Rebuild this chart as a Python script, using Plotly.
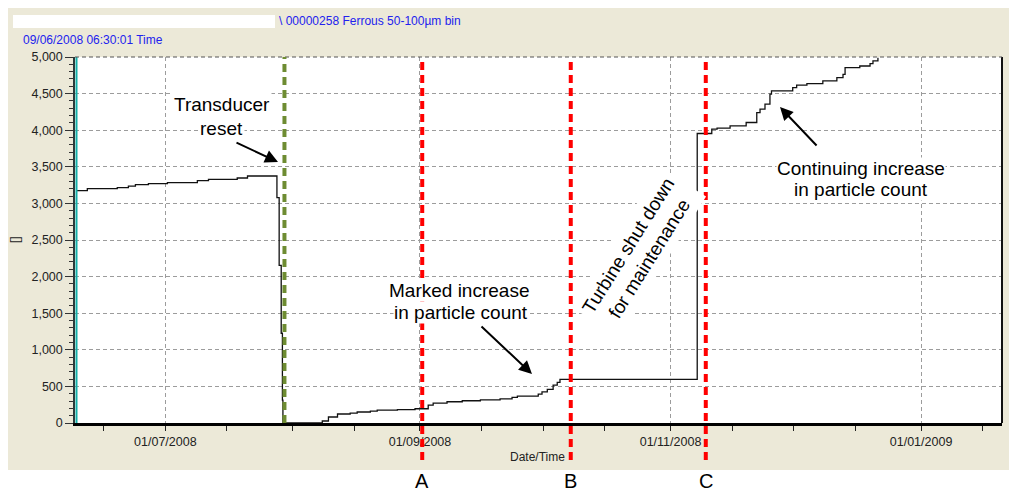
import plotly.graph_objects as go

# ---------------- data ----------------
TIMES = [
    "2008-06-09 06:30", "2008-06-12 00:00", "2008-06-19 07:00", "2008-06-22 00:00",
    "2008-06-23 17:00", "2008-06-26 21:00", "2008-07-01 12:00", "2008-07-08 19:00",
    "2008-07-11 12:00", "2008-07-18 12:00", "2008-07-21 00:00", "2008-07-28 04:00",
    "2008-07-28 17:00", "2008-07-29 05:00", "2008-07-29 12:00", "2008-07-29 15:00",
    "2008-08-08 05:00", "2008-08-09 17:00", "2008-08-11 22:00", "2008-08-15 00:00",
    "2008-08-16 17:00", "2008-08-19 22:00", "2008-08-21 14:00", "2008-08-26 12:00",
    "2008-08-30 19:00", "2008-09-03 00:00", "2008-09-04 05:00", "2008-09-07 14:00",
    "2008-09-11 07:00", "2008-09-15 17:00", "2008-09-20 12:00", "2008-09-23 10:00",
    "2008-09-24 17:00", "2008-09-29 19:00", "2008-09-30 17:00", "2008-10-02 00:00",
    "2008-10-03 10:00", "2008-10-04 10:00", "2008-10-05 02:00", "2008-11-07 12:00",
    "2008-11-11 01:00", "2008-11-12 08:00", "2008-11-15 12:00", "2008-11-19 10:00",
    "2008-11-22 00:00", "2008-11-22 19:00", "2008-11-24 00:00", "2008-11-25 05:00",
    "2008-11-25 14:00", "2008-11-30 18:00", "2008-12-01 17:00", "2008-12-04 05:00",
    "2008-12-08 02:00", "2008-12-11 12:00", "2008-12-13 00:00", "2008-12-13 12:00",
    "2008-12-17 02:00", "2008-12-19 14:00", "2008-12-20 07:00", "2008-12-21 12:00",
]
COUNTS = [
    3174, 3201, 3215, 3236,
    3256, 3270, 3283, 3311,
    3328, 3347, 3374, 3079,
    2153, 1226, 313, 0,
    27, 82, 123, 136,
    150, 163, 177, 182,
    195, 245, 272, 290,
    304, 315, 330, 350,
    368, 395, 426, 459,
    518, 554, 595, 3955,
    4015, 4029, 4060, 4105,
    4241, 4287, 4356, 4492,
    4537, 4582, 4615, 4637,
    4673, 4718, 4764, 4855,
    4877, 4909, 4946, 4991,
]

EVENT_LABELS = ["A", "B", "C"]
EVENT_TIMES = ["2008-09-01 13:00", "2008-10-07 17:00", "2008-11-09 14:00"]
RESET_TIME = "2008-07-30 00:00"

X_RANGE = ["2008-06-09 00:00", "2009-01-20 17:00"]
MAJOR_TICKS = ["2008-07-01", "2008-09-01", "2008-11-01", "2009-01-01"]
MAJOR_LABELS = ["01/07/2008", "01/09/2008", "01/11/2008", "01/01/2009"]
MINOR_TICKS = ["2008-06-16", "2008-07-16", "2008-08-01", "2008-08-16", "2008-09-16",
               "2008-10-01", "2008-10-16", "2008-11-16", "2008-12-01", "2008-12-16",
               "2009-01-16"]

HEADER_SERIES = "\\ 00000258 Ferrous 50-100µm bin"
HEADER_TIME = "09/06/2008 06:30:01 Time"

# ---------------- layout geometry ----------------
W, H = 1009, 493
L, R, T, B = 75, 7, 57, 70
PW, PH = W - L - R, H - T - B


def px(x):
    return (x - L) / PW


def py(y):
    return (H - B - y) / PH


BEIGE = "#ECE9D8"
GRID = "#9c9c9c"
TXT = "Arial, Liberation Sans, sans-serif"

fig = go.Figure()
fig.add_trace(go.Scatter(
    x=TIMES, y=COUNTS, mode="lines",
    line=dict(color="#111111", width=1.3, shape="hv"),
    hoverinfo="skip", showlegend=False,
))

shapes = []
# white surroundings outside the beige panel
for x0, x1, y0, y1 in [(0, W, 0, 8), (0, 8, 0, H), (0, W, 470, H), (13, 275, 15, 28)]:
    shapes.append(dict(type="rect", xref="paper", yref="paper",
                       x0=px(x0), x1=px(x1), y0=py(y1), y1=py(y0),
                       fillcolor="white", line=dict(width=0), layer="below"))
# teal strip at left of plot
shapes.append(dict(type="line", xref="paper", yref="paper", x0=px(76.5), x1=px(76.5),
                   y0=0, y1=1, line=dict(color="#14AFA8", width=2)))
# right border and top dashed border
shapes.append(dict(type="line", xref="paper", yref="paper", x0=1, x1=1, y0=0, y1=1,
                   line=dict(color="#111111", width=2)))
shapes.append(dict(type="line", xref="paper", yref="paper", x0=0, x1=1, y0=1, y1=1,
                   line=dict(color="#555555", width=1.2, dash="4px,3px")))
# event lines
for t in EVENT_TIMES:
    shapes.append(dict(type="line", xref="x", yref="paper", x0=t, x1=t,
                       y0=py(460), y1=1,
                       line=dict(color="#FF0000", width=4, dash="8px,5px")))
shapes.append(dict(type="line", xref="x", yref="paper", x0=RESET_TIME, x1=RESET_TIME,
                   y0=0, y1=1, line=dict(color="#6E8C32", width=4, dash="8px,5px")))

ann = []


def note(text, x, y, size=19, **kw):
    d = dict(text=text, xref="paper", yref="paper", x=px(x), y=py(y),
             xanchor="center", yanchor="middle", showarrow=False,
             font=dict(family=TXT, size=size, color="#000000"))
    d.update(kw)
    ann.append(d)


def arrow(tip, tail):
    ann.append(dict(text="", xref="paper", yref="paper", x=px(tip[0]), y=py(tip[1]),
                    ax=tail[0] - tip[0], ay=tail[1] - tip[1], showarrow=True,
                    arrowhead=2, arrowsize=1.3, arrowwidth=2, arrowcolor="#000000",
                    standoff=0))


# header texts
note(HEADER_SERIES, 277, 21.5, xanchor="left", font=dict(family=TXT, size=12, color="#2222EE"))
note(HEADER_TIME, 21, 39.5, xanchor="left", font=dict(family=TXT, size=12, color="#2222EE"))
# axis titles
note("Date/Time", 537, 457, font=dict(family=TXT, size=12, color="#222222"))
note("[]", 15, 240, textangle=-90, font=dict(family=TXT, size=12, color="#222222"))

# callouts (second line first so the first line's descenders stay visible)
note("reset", 221, 128, bgcolor="white", borderpad=1)
note("Transducer", 222, 104, bgcolor="white", borderpad=1)
note("in particle count", 461, 312, bgcolor="white", borderpad=0)
note("Marked increase", 459, 290, bgcolor="white", borderpad=0)
note("in particle count", 861, 190, bgcolor="white", borderpad=0)
note("Continuing increase", 861, 168.5, bgcolor="white", borderpad=0)
note("Turbine shut down<br>for maintenance", 639, 252, textangle=-58,
     bgcolor="white", borderpad=4)

arrow((278, 162), (235, 142))
arrow((532, 374), (480, 325))
arrow((780, 107), (818, 147))

# event letters under the chart
for lab, t in zip(EVENT_LABELS, EVENT_TIMES):
    ann.append(dict(text=lab, xref="x", yref="paper", x=t, y=py(481),
                    xanchor="center", yanchor="middle", showarrow=False,
                    font=dict(family=TXT, size=20, color="#000000")))

fig.update_layout(
    width=W, height=H,
    margin=dict(l=L, r=R, t=T, b=B, pad=0),
    paper_bgcolor=BEIGE, plot_bgcolor="white",
    showlegend=False,
    shapes=shapes, annotations=ann,
    xaxis=dict(
        type="date", range=X_RANGE,
        tickmode="array", tickvals=MAJOR_TICKS, ticktext=MAJOR_LABELS,
        ticks="outside", ticklen=5, tickcolor="#222222", tickwidth=1,
        tickfont=dict(family=TXT, size=12.5, color="#222222"),
        showgrid=True, gridcolor=GRID, griddash="4px,3px", gridwidth=1,
        showline=True, linecolor="#000000", linewidth=2.5,
        zeroline=False, fixedrange=True,
        minor=dict(tickmode="array", tickvals=MINOR_TICKS, ticks="outside",
                   ticklen=5, tickcolor="#222222", showgrid=False),
    ),
    yaxis=dict(
        range=[0, 5000], tick0=0, dtick=500, tickformat=",d",
        ticks="outside", ticklen=8, tickcolor="#333333", tickwidth=1,
        tickfont=dict(family=TXT, size=12.5, color="#222222"),
        showgrid=True, gridcolor=GRID, griddash="4px,3px", gridwidth=1,
        showline=True, linecolor="#2c3a3a", linewidth=1.5,
        zeroline=False, fixedrange=True,
        minor=dict(dtick=100, ticks="outside", ticklen=4, tickcolor="#333333",
                   showgrid=False),
    ),
)

fig.write_html("out.html")
